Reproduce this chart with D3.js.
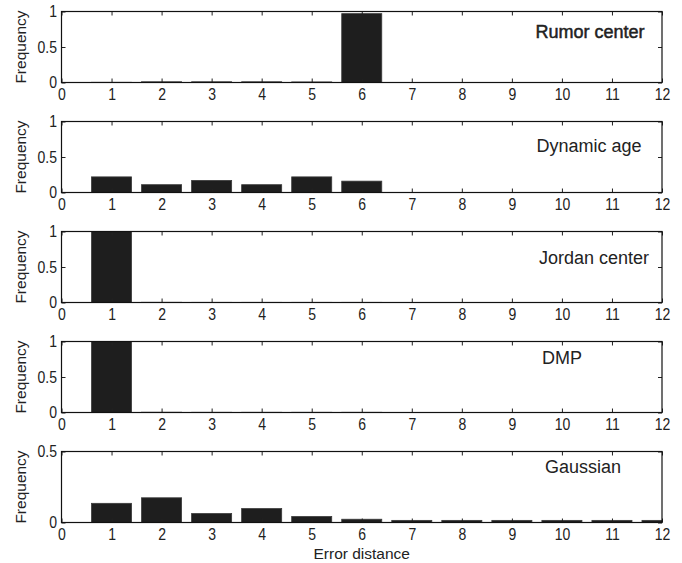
<!DOCTYPE html>
<html>
<head>
<meta charset="utf-8">
<script src="https://cdn.jsdelivr.net/npm/d3@7/dist/d3.min.js"></script>
<style>
  body { margin: 0; background: #fff; }
  svg { display: block; }
  .tick-label text { font-family: "Liberation Sans", Arial, sans-serif; font-size: 16.5px; fill: #222; }
  .panel-title { font-family: "Liberation Sans", Arial, sans-serif; font-size: 18px; fill: #222; }
  .axis-title { font-family: "Liberation Sans", Arial, sans-serif; font-size: 15.5px; fill: #222; }
</style>
</head>
<body>
<div id="chart"></div>
<script>
// error distance categories and tick labels
var distances = [1, 2, 3, 4, 5, 6, 7, 8, 9, 10, 11, 12];
var xTickValues = [0, 1, 2, 3, 4, 5, 6, 7, 8, 9, 10, 11, 12];
var yTicksFull = [0, 0.5, 1];
var yTicksHalf = [0, 0.5];

// frequency per error distance, one array per estimator
var rumorCenter  = [0.003, 0.01, 0.01, 0.01, 0.008, 0.97, 0, 0, 0, 0, 0, 0];
var dynamicAge   = [0.22, 0.11, 0.17, 0.11, 0.22, 0.16, 0, 0, 0, 0, 0, 0];
var jordanCenter = [1.0, 0.003, 0.002, 0.002, 0.002, 0.002, 0, 0, 0, 0, 0, 0];
var dmp          = [1.0, 0.004, 0.003, 0.003, 0.003, 0.003, 0, 0, 0, 0, 0, 0];
var gaussian     = [0.135, 0.174, 0.063, 0.098, 0.042, 0.023, 0.015, 0.015, 0.015, 0.015, 0.015, 0.015];

var panelNames = ["Rumor center", "Dynamic age", "Jordan center", "DMP", "Gaussian"];
var panelSeries = [rumorCenter, dynamicAge, jordanCenter, dmp, gaussian];
var panelYMax = [1, 1, 1, 1, 0.5];
var panelYTicks = [yTicksFull, yTicksFull, yTicksFull, yTicksFull, yTicksHalf];

// layout
var width = 682, height = 563;
var left = 61.5, right = 662;
var firstTop = 11.5, step = 110, panelH = 71;
var squeeze = 0.85; // tick labels in the source are horizontally condensed
// panel title centres (px inside each panel)
var titlePos = [
  { x: 590, dy: 26, bold: true },
  { x: 589, dy: 30 },
  { x: 594, dy: 32 },
  { x: 562, dy: 22 },
  { x: 583, dy: 21 }
];

var svg = d3.select("#chart").append("svg")
  .attr("width", width)
  .attr("height", height);

var x = d3.scaleLinear().domain([0, 12]).range([left, right]);

panelSeries.forEach(function(series, i) {
  var top = firstTop + i * step;
  var y = d3.scaleLinear().domain([0, panelYMax[i]]).range([top + panelH, top]);

  var g = svg.append("g");

  var clipId = "clip" + i;
  svg.append("clipPath").attr("id", clipId)
    .append("rect")
    .attr("x", left).attr("y", top)
    .attr("width", right - left).attr("height", panelH);

  // bars
  g.append("g")
    .attr("clip-path", "url(#" + clipId + ")")
    .selectAll("rect")
    .data(distances)
    .enter().append("rect")
    .attr("x", function(d) { return x(d - 0.4); })
    .attr("width", function(d) { return x(d + 0.4) - x(d - 0.4); })
    .attr("y", function(d, j) { return y(series[j]); })
    .attr("height", function(d, j) { return y(0) - y(series[j]); })
    .attr("fill", "#1e1e1e")
    .attr("stroke", "#3a3a3a")
    .attr("stroke-width", 0.8);

  // bottom axis with labels, inward ticks
  var bottom = g.append("g")
    .attr("class", "tick-label")
    .attr("transform", "translate(0," + (top + panelH) + ")")
    .call(d3.axisBottom(x).tickValues(xTickValues).tickSize(-4).tickPadding(6));
  bottom.selectAll("text").attr("transform", "scale(" + squeeze + ",1)");
  // top ticks
  var topAx = g.append("g")
    .attr("transform", "translate(0," + top + ")")
    .call(d3.axisTop(x).tickValues(xTickValues).tickSize(-4).tickFormat(""));
  // left axis with labels
  var leftAx = g.append("g")
    .attr("class", "tick-label")
    .attr("transform", "translate(" + left + ",0)")
    .call(d3.axisLeft(y).tickValues(panelYTicks[i]).tickSize(-4).tickPadding(4.5 / squeeze)
      .tickFormat(function(v) { return String(v); }));
  leftAx.selectAll("text").attr("transform", "scale(" + squeeze + ",1)");
  // right ticks
  var rightAx = g.append("g")
    .attr("transform", "translate(" + right + ",0)")
    .call(d3.axisRight(y).tickValues(panelYTicks[i]).tickSize(-4).tickFormat(""));

  [bottom, topAx, leftAx, rightAx].forEach(function(ax) {
    ax.select(".domain").remove();
    ax.selectAll("line").attr("stroke", "#222").attr("stroke-width", 1);
  });

  // frame
  g.append("rect")
    .attr("x", left).attr("y", top)
    .attr("width", right - left).attr("height", panelH)
    .attr("fill", "none")
    .attr("stroke", "#111")
    .attr("stroke-width", 1.2);

  // panel title
  var t = g.append("text")
    .attr("class", "panel-title")
    .attr("x", titlePos[i].x)
    .attr("y", top + titlePos[i].dy)
    .attr("text-anchor", "middle")
    .text(panelNames[i]);
  if (titlePos[i].bold) {
    t.attr("stroke", "#222").attr("stroke-width", 0.5);
  }

  // y axis title
  g.append("text")
    .attr("class", "axis-title")
    .attr("transform", "translate(26," + (top + panelH / 2) + ") rotate(-90)")
    .attr("text-anchor", "middle")
    .text("Frequency");
});

// x axis title under the last panel
svg.append("text")
  .attr("class", "axis-title")
  .attr("x", x(6))
  .attr("y", 559)
  .attr("text-anchor", "middle")
  .text("Error distance");
</script>
</body>
</html>
